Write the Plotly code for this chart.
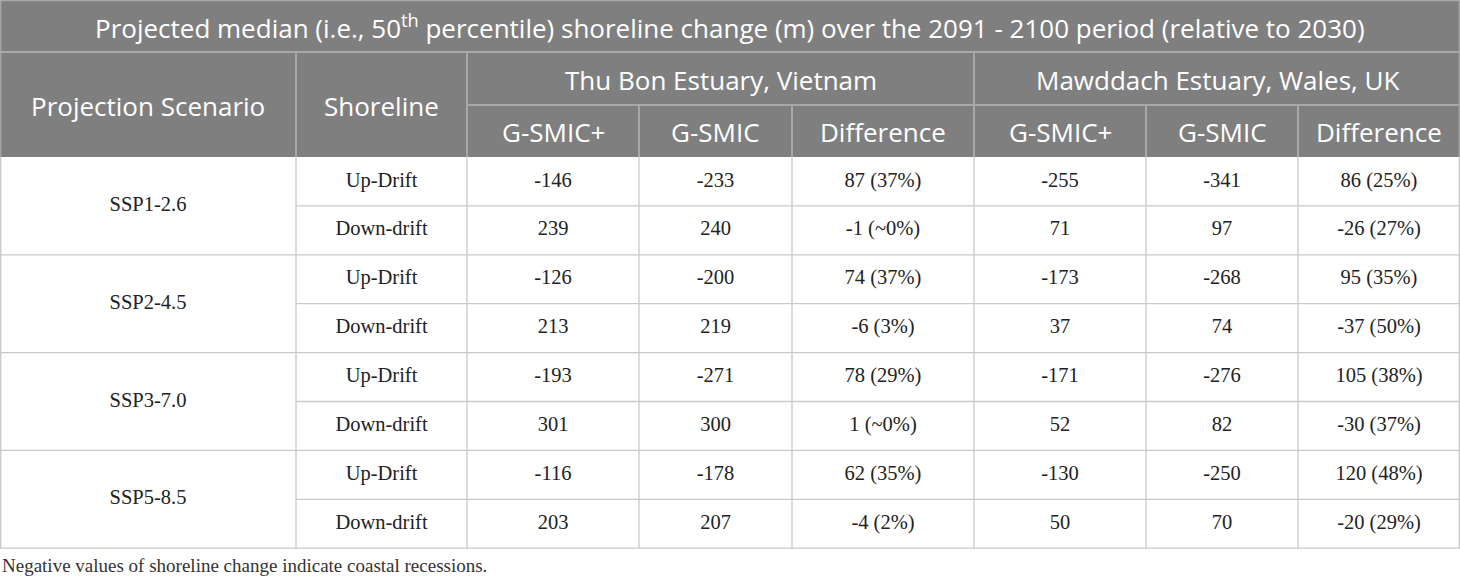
import plotly.graph_objects as go

# Table content
TITLE = ("Projected median (i.e., 50<sup>th</sup> percentile) shoreline change (m) "
         "over the 2091 - 2100 period (relative to 2030)")
SITES = ["Thu Bon Estuary, Vietnam", "Mawddach Estuary, Wales, UK"]
SUB_HEADERS = ["G-SMIC+", "G-SMIC", "Difference"]
SCENARIOS = ["SSP1-2.6", "SSP2-4.5", "SSP3-7.0", "SSP5-8.5"]
SHORELINES = ["Up-Drift", "Down-drift"]

thu_bon_plus = [-146, 239, -126, 213, -193, 301, -116, 203]
thu_bon_smic = [-233, 240, -200, 219, -271, 300, -178, 207]
thu_bon_diff = ["87 (37%)", "-1 (~0%)", "74 (37%)", "-6 (3%)",
                "78 (29%)", "1 (~0%)", "62 (35%)", "-4 (2%)"]
mawddach_plus = [-255, 71, -173, 37, -171, 52, -130, 50]
mawddach_smic = [-341, 97, -268, 74, -276, 82, -250, 70]
mawddach_diff = ["86 (25%)", "-26 (27%)", "95 (35%)", "-37 (50%)",
                 "105 (38%)", "-30 (37%)", "120 (48%)", "-20 (29%)"]

FOOTNOTE = "Negative values of shoreline change indicate coastal recessions."

# Layout geometry (pixels)
W, H = 1460, 579
COL_EDGES = [0, 296, 467, 639, 792, 974, 1146, 1298, 1460]
HEAD_Y = [0, 52, 105, 157]
ROW_H = 48.9
BODY_TOP = 157
HEAD_BG = "#7f7f7f"
HEAD_LINE = "#a8a8a8"
BODY_LINE = "#c9c9c9"
SANS = "Open Sans"
SERIF = "Liberation Serif"

n_rows = len(SCENARIOS) * len(SHORELINES)
row_edges = [BODY_TOP + i * ROW_H for i in range(n_rows + 1)]
body_bottom = row_edges[-1]


def mid(a, b):
    return (a + b) / 2


shapes = []


def line(x0, y0, x1, y1, color, width=1):
    shapes.append(dict(type="line", xref="x", yref="y", x0=x0, y0=y0, x1=x1, y1=y1,
                       line=dict(color=color, width=width)))


# header block
shapes.append(dict(type="rect", xref="x", yref="y", x0=0, y0=HEAD_Y[0], x1=W, y1=HEAD_Y[3],
                   fillcolor=HEAD_BG, line=dict(width=0), layer="below"))
line(0, HEAD_Y[1], W, HEAD_Y[1], HEAD_LINE, 2)
line(COL_EDGES[2], HEAD_Y[2], W, HEAD_Y[2], HEAD_LINE, 2)
for x in [COL_EDGES[1], COL_EDGES[2], COL_EDGES[5]]:
    line(x, HEAD_Y[1], x, HEAD_Y[3], HEAD_LINE, 2)
for x in [COL_EDGES[3], COL_EDGES[4], COL_EDGES[6], COL_EDGES[7]]:
    line(x, HEAD_Y[2], x, HEAD_Y[3], HEAD_LINE, 2)
line(0, 0.7, W, 0.7, HEAD_LINE, 1.3)
line(0.7, 0, 0.7, HEAD_Y[3], HEAD_LINE, 1.3)
line(W - 0.7, 0, W - 0.7, HEAD_Y[3], HEAD_LINE, 1.3)

# body grid
for i, y in enumerate(row_edges[1:], start=1):
    x_start = 0 if i % 2 == 0 else COL_EDGES[1]
    line(x_start, y, W, y, BODY_LINE, 1.3)
for x in COL_EDGES:
    x = min(max(x, 0.7), W - 0.7)
    line(x, BODY_TOP, x, body_bottom, BODY_LINE, 1.3)

annotations = []


def head_text(x, y, text, size=26):
    annotations.append(dict(x=x, y=y, xref="x", yref="y", text=text, showarrow=False,
                            font=dict(family=SANS, size=size, color="white"),
                            xanchor="center", yanchor="middle"))


head_text(W / 2, mid(HEAD_Y[0], HEAD_Y[1]) + 1, TITLE, 26)
head_text(mid(COL_EDGES[0], COL_EDGES[1]), mid(HEAD_Y[1], HEAD_Y[3]) + 1, "Projection Scenario")
head_text(mid(COL_EDGES[1], COL_EDGES[2]), mid(HEAD_Y[1], HEAD_Y[3]) + 1, "Shoreline")
head_text(mid(COL_EDGES[2], COL_EDGES[5]), mid(HEAD_Y[1], HEAD_Y[2]) + 1, SITES[0])
head_text(mid(COL_EDGES[5], COL_EDGES[8]), mid(HEAD_Y[1], HEAD_Y[2]) + 1, SITES[1])
for k in range(6):
    head_text(mid(COL_EDGES[2 + k], COL_EDGES[3 + k]), mid(HEAD_Y[2], HEAD_Y[3]) + 1,
              SUB_HEADERS[k % 3])

# body text
xs, ys, texts = [], [], []
for j, sc in enumerate(SCENARIOS):
    xs.append(mid(COL_EDGES[0], COL_EDGES[1]))
    ys.append(mid(row_edges[2 * j], row_edges[2 * j + 2]))
    texts.append(sc)

columns = [thu_bon_plus, thu_bon_smic, thu_bon_diff,
           mawddach_plus, mawddach_smic, mawddach_diff]
for i in range(n_rows):
    yc = mid(row_edges[i], row_edges[i + 1])
    xs.append(mid(COL_EDGES[1], COL_EDGES[2]))
    ys.append(yc)
    texts.append(SHORELINES[i % 2])
    for k, col in enumerate(columns):
        xs.append(mid(COL_EDGES[2 + k], COL_EDGES[3 + k]))
        ys.append(yc)
        texts.append(str(col[i]))

fig = go.Figure(go.Scatter(
    x=xs, y=ys, text=texts, mode="text", textposition="middle center",
    textfont=dict(family=SERIF, size=20.5, color="#222222"), hoverinfo="skip",
))

annotations.append(dict(x=0, y=565, xref="x", yref="y", text=FOOTNOTE, showarrow=False,
                        font=dict(family=SERIF, size=19, color="#333333"),
                        xanchor="left", yanchor="middle"))

fig.update_layout(
    width=W, height=H,
    margin=dict(l=0, r=0, t=0, b=0),
    paper_bgcolor="white", plot_bgcolor="white",
    showlegend=False,
    shapes=shapes, annotations=annotations,
    xaxis=dict(range=[0, W], visible=False, fixedrange=True),
    yaxis=dict(range=[H, 0], visible=False, fixedrange=True),
)

fig.write_html("out.html", config={"displayModeBar": False},
               post_script="document.body.style.margin='0';")
